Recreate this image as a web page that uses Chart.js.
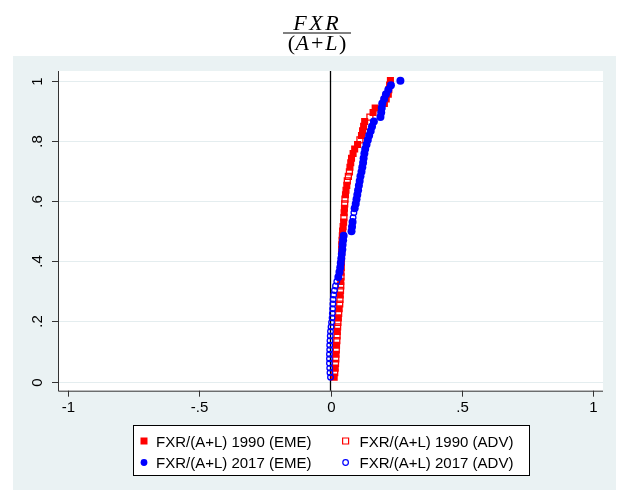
<!DOCTYPE html>
<html><head><meta charset="utf-8">
<script src="https://cdn.jsdelivr.net/npm/chart.js@4"></script>
<style>html,body{margin:0;padding:0;background:#fff;overflow:hidden}</style>
</head><body>
<canvas id="c" width="621" height="491"></canvas>
<script>
// ---- text ----
const titleNum = ['F', 'X', 'R'];
const titleDen = ['(', 'A', '+', 'L', ')'];
const xTicks = [-1, -0.5, 0, 0.5, 1];
const xTickLabels = ['-1', '-.5', '0', '.5', '1'];
const yTicks = [0, 0.2, 0.4, 0.6, 0.8, 1];
const yTickLabels = ['0', '.2', '.4', '.6', '.8', '1'];
const seriesLabels = ['FXR/(A+L) 1990 (EME)', 'FXR/(A+L) 1990 (ADV)', 'FXR/(A+L) 2017 (EME)', 'FXR/(A+L) 2017 (ADV)'];

// ---- data (x = FXR/(A+L), y = cumulative share) ----
const eme1990X = [.014,.018,.021,.023,.026,.030,.033,.037,.039,.040,.041,.041,.042,.042,.043,.043,.044,.045,.046,.048,.050,.052,.053,.057,.059,.062,.074,.077,.080,.086,.092,.103,.118,.122,.126,.130,.162,.170,.205,.212,.220,.222,.225,.228];
const eme1990Y = [.015,.045,.091,.121,.167,.212,.242,.288,.333,.364,.379,.394,.409,.424,.439,.455,.470,.485,.500,.515,.530,.561,.576,.621,.636,.652,.712,.727,.742,.758,.773,.788,.818,.833,.848,.864,.894,.909,.924,.939,.955,.970,.985,1.000];
const adv1990X = [.016,.019,.020,.022,.024,.025,.027,.028,.031,.035,.036,.038,.039,.040,.051,.054,.055,.064,.068,.072,.112,.150];
const adv1990Y = [.030,.061,.076,.106,.136,.152,.182,.197,.227,.258,.273,.303,.318,.348,.545,.591,.606,.667,.682,.697,.803,.879];
const eme2017X = [.030,.034,.037,.039,.041,.043,.045,.046,.048,.050,.080,.082,.084,.092,.096,.099,.102,.105,.108,.111,.114,.118,.121,.124,.126,.129,.132,.137,.142,.147,.153,.158,.165,.190,.193,.195,.197,.204,.211,.220,.230,.266];
const eme2017Y = [.348,.364,.379,.394,.409,.424,.439,.455,.470,.485,.500,.515,.530,.576,.591,.606,.621,.636,.652,.667,.682,.697,.712,.727,.742,.758,.773,.788,.803,.818,.833,.848,.864,.879,.894,.909,.924,.939,.955,.970,.985,1.000];
const adv2017X = [.000,-.002,-.003,-.004,-.004,-.004,-.003,-.003,-.002,-.001,.000,.002,.004,.006,.007,.008,.009,.010,.012,.015,.019,.024,.086,.089];
const adv2017Y = [.015,.030,.045,.061,.076,.091,.106,.121,.136,.152,.167,.182,.197,.212,.227,.242,.258,.273,.288,.303,.318,.333,.545,.561];

const pts = (xs, ys) => xs.map((x, i) => ({x: x, y: ys[i]}));
const RED = '#ff0000', BLUE = '#0000ff', NONE = 'rgba(0,0,0,0)';
const SANS = '"Liberation Sans", Arial, sans-serif';
const SERIF = '"Liberation Serif", "Times New Roman", serif';

const datasets = [
  {label: seriesLabels[0], data: pts(eme1990X, eme1990Y), pointStyle: 'rect', pointRadius: 5, backgroundColor: RED, borderColor: RED, borderWidth: 0, order: 4},
  {label: seriesLabels[1], data: pts(adv1990X, adv1990Y), pointStyle: 'rect', pointRadius: 4.2, backgroundColor: NONE, borderColor: RED, borderWidth: 1.3, order: 3},
  {label: seriesLabels[2], data: pts(eme2017X, eme2017Y), pointStyle: 'circle', pointRadius: 4, backgroundColor: BLUE, borderColor: BLUE, borderWidth: 0, order: 2},
  {label: seriesLabels[3], data: pts(adv2017X, adv2017Y), pointStyle: 'circle', pointRadius: 2.8, backgroundColor: NONE, borderColor: BLUE, borderWidth: 1.3, order: 1}
];

const decor = {
  id: 'decor',
  beforeDraw(chart) {
    const ctx = chart.ctx, a = chart.chartArea;
    ctx.save();
    ctx.fillStyle = '#ffffff';
    ctx.fillRect(0, 0, chart.width, chart.height);
    ctx.fillStyle = '#eaf2f3';
    ctx.fillRect(13, 56, 603, 434);
    ctx.fillStyle = '#ffffff';
    ctx.fillRect(a.left, a.top, a.right - a.left, a.bottom - a.top);
    const ys = chart.scales.y;
    ctx.strokeStyle = '#e4edef';
    ctx.lineWidth = 1;
    yTicks.forEach(v => {
      const py = Math.round(ys.getPixelForValue(v)) + 0.5;
      ctx.beginPath(); ctx.moveTo(a.left, py); ctx.lineTo(a.right, py); ctx.stroke();
    });
    ctx.restore();
  },
  beforeDatasetsDraw(chart) {
    const ctx = chart.ctx, a = chart.chartArea;
    const px = chart.scales.x.getPixelForValue(0);
    ctx.save();
    ctx.strokeStyle = '#000';
    ctx.lineWidth = 1.3;
    ctx.beginPath(); ctx.moveTo(px, a.top); ctx.lineTo(px, a.bottom); ctx.stroke();
    ctx.restore();
  },
  afterDraw(chart) {
    const ctx = chart.ctx, a = chart.chartArea;
    const xs = chart.scales.x, ys = chart.scales.y;
    ctx.save();
    ctx.strokeStyle = '#333';
    ctx.lineWidth = 1;
    ctx.beginPath();
    ctx.moveTo(a.left + 0.5, a.top); ctx.lineTo(a.left + 0.5, a.bottom + 0.5);
    ctx.lineTo(a.right, a.bottom + 0.5);
    ctx.stroke();
    ctx.fillStyle = '#000';
    ctx.font = '15px ' + SANS;
    xTicks.forEach((v, i) => {
      const px = Math.round(xs.getPixelForValue(v)) + 0.5;
      ctx.beginPath(); ctx.moveTo(px, a.bottom); ctx.lineTo(px, a.bottom + 6); ctx.stroke();
      ctx.textAlign = 'center'; ctx.textBaseline = 'alphabetic';
      ctx.fillText(xTickLabels[i], px, 412);
    });
    yTicks.forEach((v, i) => {
      const py = Math.round(ys.getPixelForValue(v)) + 0.5;
      ctx.beginPath(); ctx.moveTo(a.left - 6, py); ctx.lineTo(a.left, py); ctx.stroke();
      ctx.save();
      ctx.translate(42, py);
      ctx.rotate(-Math.PI / 2);
      ctx.textAlign = 'center'; ctx.textBaseline = 'alphabetic';
      ctx.fillText(yTickLabels[i], 0, 0);
      ctx.restore();
    });
    // title fraction
    const cx = 316;
    ctx.textBaseline = 'alphabetic'; ctx.textAlign = 'left';
    const it = 'italic 22px ' + SERIF, up = '22px ' + SERIF;
    const gap = 2.5;
    ctx.font = it;
    let w = 0; const nw = titleNum.map(ch => { const m = ctx.measureText(ch).width; w += m; return m; });
    w += gap * (titleNum.length - 1);
    let x = cx - w / 2;
    titleNum.forEach((ch, i) => { ctx.fillText(ch, x, 30); x += nw[i] + gap; });
    ctx.strokeStyle = '#000'; ctx.lineWidth = 1;
    ctx.beginPath(); ctx.moveTo(283, 33); ctx.lineTo(351, 33); ctx.stroke();
    const fonts = [up, it, up, it, up];
    const gaps = [0.5, 2, 2, 1.5, 0];
    let dw = 0; const dws = titleDen.map((ch, i) => { ctx.font = fonts[i]; const m = ctx.measureText(ch).width; dw += m + gaps[i]; return m; });
    x = cx - dw / 2 + 1;
    titleDen.forEach((ch, i) => { ctx.font = fonts[i]; ctx.fillText(ch, x, 50); x += dws[i] + gaps[i]; });
    // legend
    ctx.fillStyle = '#fff';
    ctx.fillRect(133.5, 425.5, 396, 50);
    ctx.strokeStyle = '#000'; ctx.lineWidth = 1;
    ctx.strokeRect(133.5, 425.5, 396, 50);
    const pos = [[144, 441, 156, 446.5], [345.6, 441, 359.6, 446.5], [144, 462.5, 156, 468], [345.6, 462.5, 359.6, 468]];
    chart.data.datasets.forEach((d, i) => {
      const [mx, my, tx, ty] = pos[i];
      ctx.beginPath();
      if (d.pointStyle === 'rect') {
        if (d.borderWidth > 0) { ctx.rect(mx - 3, my - 3, 6, 6); }
        else { ctx.rect(mx - 3.5, my - 3.5, 7, 7); }
      } else {
        ctx.arc(mx, my, d.borderWidth > 0 ? 2.8 : 3.4, 0, Math.PI * 2);
      }
      if (d.borderWidth > 0) { ctx.strokeStyle = d.borderColor; ctx.lineWidth = 1.2; ctx.stroke(); }
      else { ctx.fillStyle = d.backgroundColor; ctx.fill(); }
      ctx.fillStyle = '#000';
      ctx.font = '15px ' + SANS;
      ctx.textAlign = 'left'; ctx.textBaseline = 'alphabetic';
      ctx.fillText(d.label, tx, ty);
    });
    ctx.restore();
  }
};

new Chart(document.getElementById('c'), {
  type: 'scatter',
  data: {datasets: datasets},
  options: {
    responsive: false,
    animation: false,
    events: [],
    devicePixelRatio: 1,
    layout: {padding: {left: 58, right: 18, top: 71, bottom: 100.3}},
    scales: {
      x: {type: 'linear', min: -1.037, max: 1.037, display: false},
      y: {type: 'linear', min: -0.03, max: 1.032, display: false}
    },
    plugins: {legend: {display: false}, tooltip: {enabled: false}, title: {display: false}}
  },
  plugins: [decor]
});
</script>
</body></html>
